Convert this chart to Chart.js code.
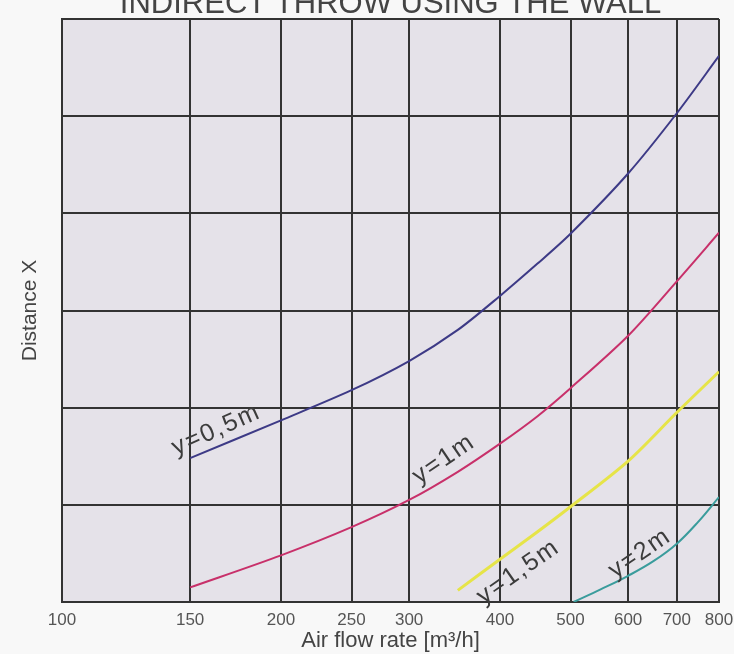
<!DOCTYPE html>
<html>
<head>
<meta charset="utf-8">
<script src="https://cdn.jsdelivr.net/npm/chart.js@4.4.1/dist/chart.umd.min.js"></script>
<style>
  html, body { margin: 0; padding: 0; background: #f8f8f8; }
  #wrap { width: 734px; height: 654px; position: relative; }
</style>
</head>
<body>
<div id="wrap"><canvas id="grafico" width="734" height="654"></canvas></div>
<script>
// tick del asse x (scala logaritmica)
var portate_tick = [100, 150, 200, 250, 300, 400, 500, 600, 700, 800];

// curve: portata [m3/h] e distanza (in riquadri della griglia)
var portata_05 = [150, 200, 250, 300, 350, 400, 450, 500, 600, 700, 800];
var dist_05    = [1.48, 1.87, 2.18, 2.48, 2.8, 3.15, 3.48, 3.79, 4.41, 5.03, 5.62];

var portata_1 = [150, 200, 250, 300, 350, 400, 450, 500, 600, 700, 800];
var dist_1    = [0.15, 0.48, 0.77, 1.05, 1.34, 1.63, 1.91, 2.2, 2.74, 3.3, 3.8];

var portata_15 = [350, 400, 450, 500, 600, 700, 800];
var dist_15    = [0.12, 0.44, 0.72, 0.98, 1.45, 1.95, 2.37];

var portata_2 = [505, 550, 600, 650, 700, 750, 800];
var dist_2    = [0.0, 0.13, 0.27, 0.42, 0.6, 0.83, 1.08];

function punti(xs, ys) {
  var out = [];
  for (var i = 0; i < xs.length; i++) {
    out.push({ x: xs[i], y: ys[i] });
  }
  return out;
}

var font_sans = '"Liberation Sans", Arial, sans-serif';

// sfondo dell'area del grafico
var sfondo = {
  id: 'sfondo',
  beforeDraw: function(chart) {
    var a = chart.chartArea, ctx = chart.ctx;
    ctx.save();
    ctx.fillStyle = '#e5e2e9';
    ctx.fillRect(a.left, a.top, a.right - a.left, a.bottom - a.top);
    ctx.restore();
  }
};

// titolo tagliato in alto + etichette sulle curve
var scritte = {
  id: 'scritte',
  afterDatasetsDraw: function(chart) {
    var ctx = chart.ctx, sx = chart.scales.x, sy = chart.scales.y;
    ctx.save();
    ctx.fillStyle = '#444444';
    ctx.font = '31px ' + font_sans;
    ctx.textAlign = 'center';
    ctx.textBaseline = 'alphabetic';
    ctx.fillText('INDIRECT THROW USING THE WALL', (chart.chartArea.left + chart.chartArea.right) / 2, 13);

    var etichette = [
      { t: 'y=0,5m', x: 163, y: 1.77, a: -24 },
      { t: 'y=1m', x: 335, y: 1.47, a: -34 },
      { t: 'y=1,5m', x: 424, y: 0.31, a: -35 },
      { t: 'y=2m', x: 623, y: 0.5, a: -34 }
    ];
    ctx.font = '25px ' + font_sans;
    ctx.letterSpacing = '2px';
    ctx.textBaseline = 'middle';
    ctx.fillStyle = '#3c3c3c';
    etichette.forEach(function(e) {
      ctx.save();
      ctx.translate(sx.getPixelForValue(e.x), sy.getPixelForValue(e.y));
      ctx.rotate(e.a * Math.PI / 180);
      ctx.fillText(e.t, 0, 0);
      ctx.restore();
    });
    ctx.restore();
  }
};

var ctx = document.getElementById('grafico').getContext('2d');
var chart = new Chart(ctx, {
  type: 'line',
  data: {
    datasets: [
      { label: 'y=0,5m', data: punti(portata_05, dist_05), borderColor: '#3d3a86', borderWidth: 2, pointRadius: 0, tension: 0.3, fill: false },
      { label: 'y=1m', data: punti(portata_1, dist_1), borderColor: '#c8306a', borderWidth: 2, pointRadius: 0, tension: 0.3, fill: false },
      { label: 'y=1,5m', data: punti(portata_15, dist_15), borderColor: '#e6e448', borderWidth: 3, pointRadius: 0, tension: 0.3, fill: false },
      { label: 'y=2m', data: punti(portata_2, dist_2), borderColor: '#3a9c9c', borderWidth: 2, pointRadius: 0, tension: 0.4, fill: false }
    ]
  },
  options: {
    responsive: false,
    animation: false,
    layout: { padding: { top: 19, right: 15, left: 0, bottom: 0 } },
    plugins: {
      legend: { display: false },
      tooltip: { enabled: false },
      title: { display: false }
    },
    scales: {
      x: {
        type: 'logarithmic',
        min: 100,
        max: 800,
        afterBuildTicks: function(scale) {
          scale.ticks = portate_tick.map(function(v) { return { value: v }; });
        },
        afterFit: function(scale) {
          scale.height = 52;
          scale.paddingLeft = 0;
          scale.paddingRight = 0;
        },
        grid: { color: '#333333', lineWidth: 2, drawTicks: false },
        border: { color: '#333333', width: 2 },
        ticks: {
          autoSkip: false,
          maxRotation: 0,
          padding: 8,
          color: '#555555',
          font: { family: font_sans, size: 17 },
          callback: function(v) { return v; }
        },
        title: {
          display: true,
          text: 'Air flow rate [m³/h]',
          color: '#444444',
          padding: { top: 2, bottom: 0 },
          font: { family: font_sans, size: 22 }
        }
      },
      y: {
        min: 0,
        max: 6,
        afterFit: function(scale) { scale.width = 62; },
        grid: { color: '#333333', lineWidth: 2, drawTicks: false },
        border: { color: '#333333', width: 2 },
        ticks: { stepSize: 1, display: false },
        title: {
          display: true,
          text: 'Distance X',
          color: '#444444',
          padding: { top: 18, bottom: 0 },
          font: { family: font_sans, size: 21 }
        }
      }
    }
  },
  plugins: [sfondo, scritte]
});
</script>
</body>
</html>
